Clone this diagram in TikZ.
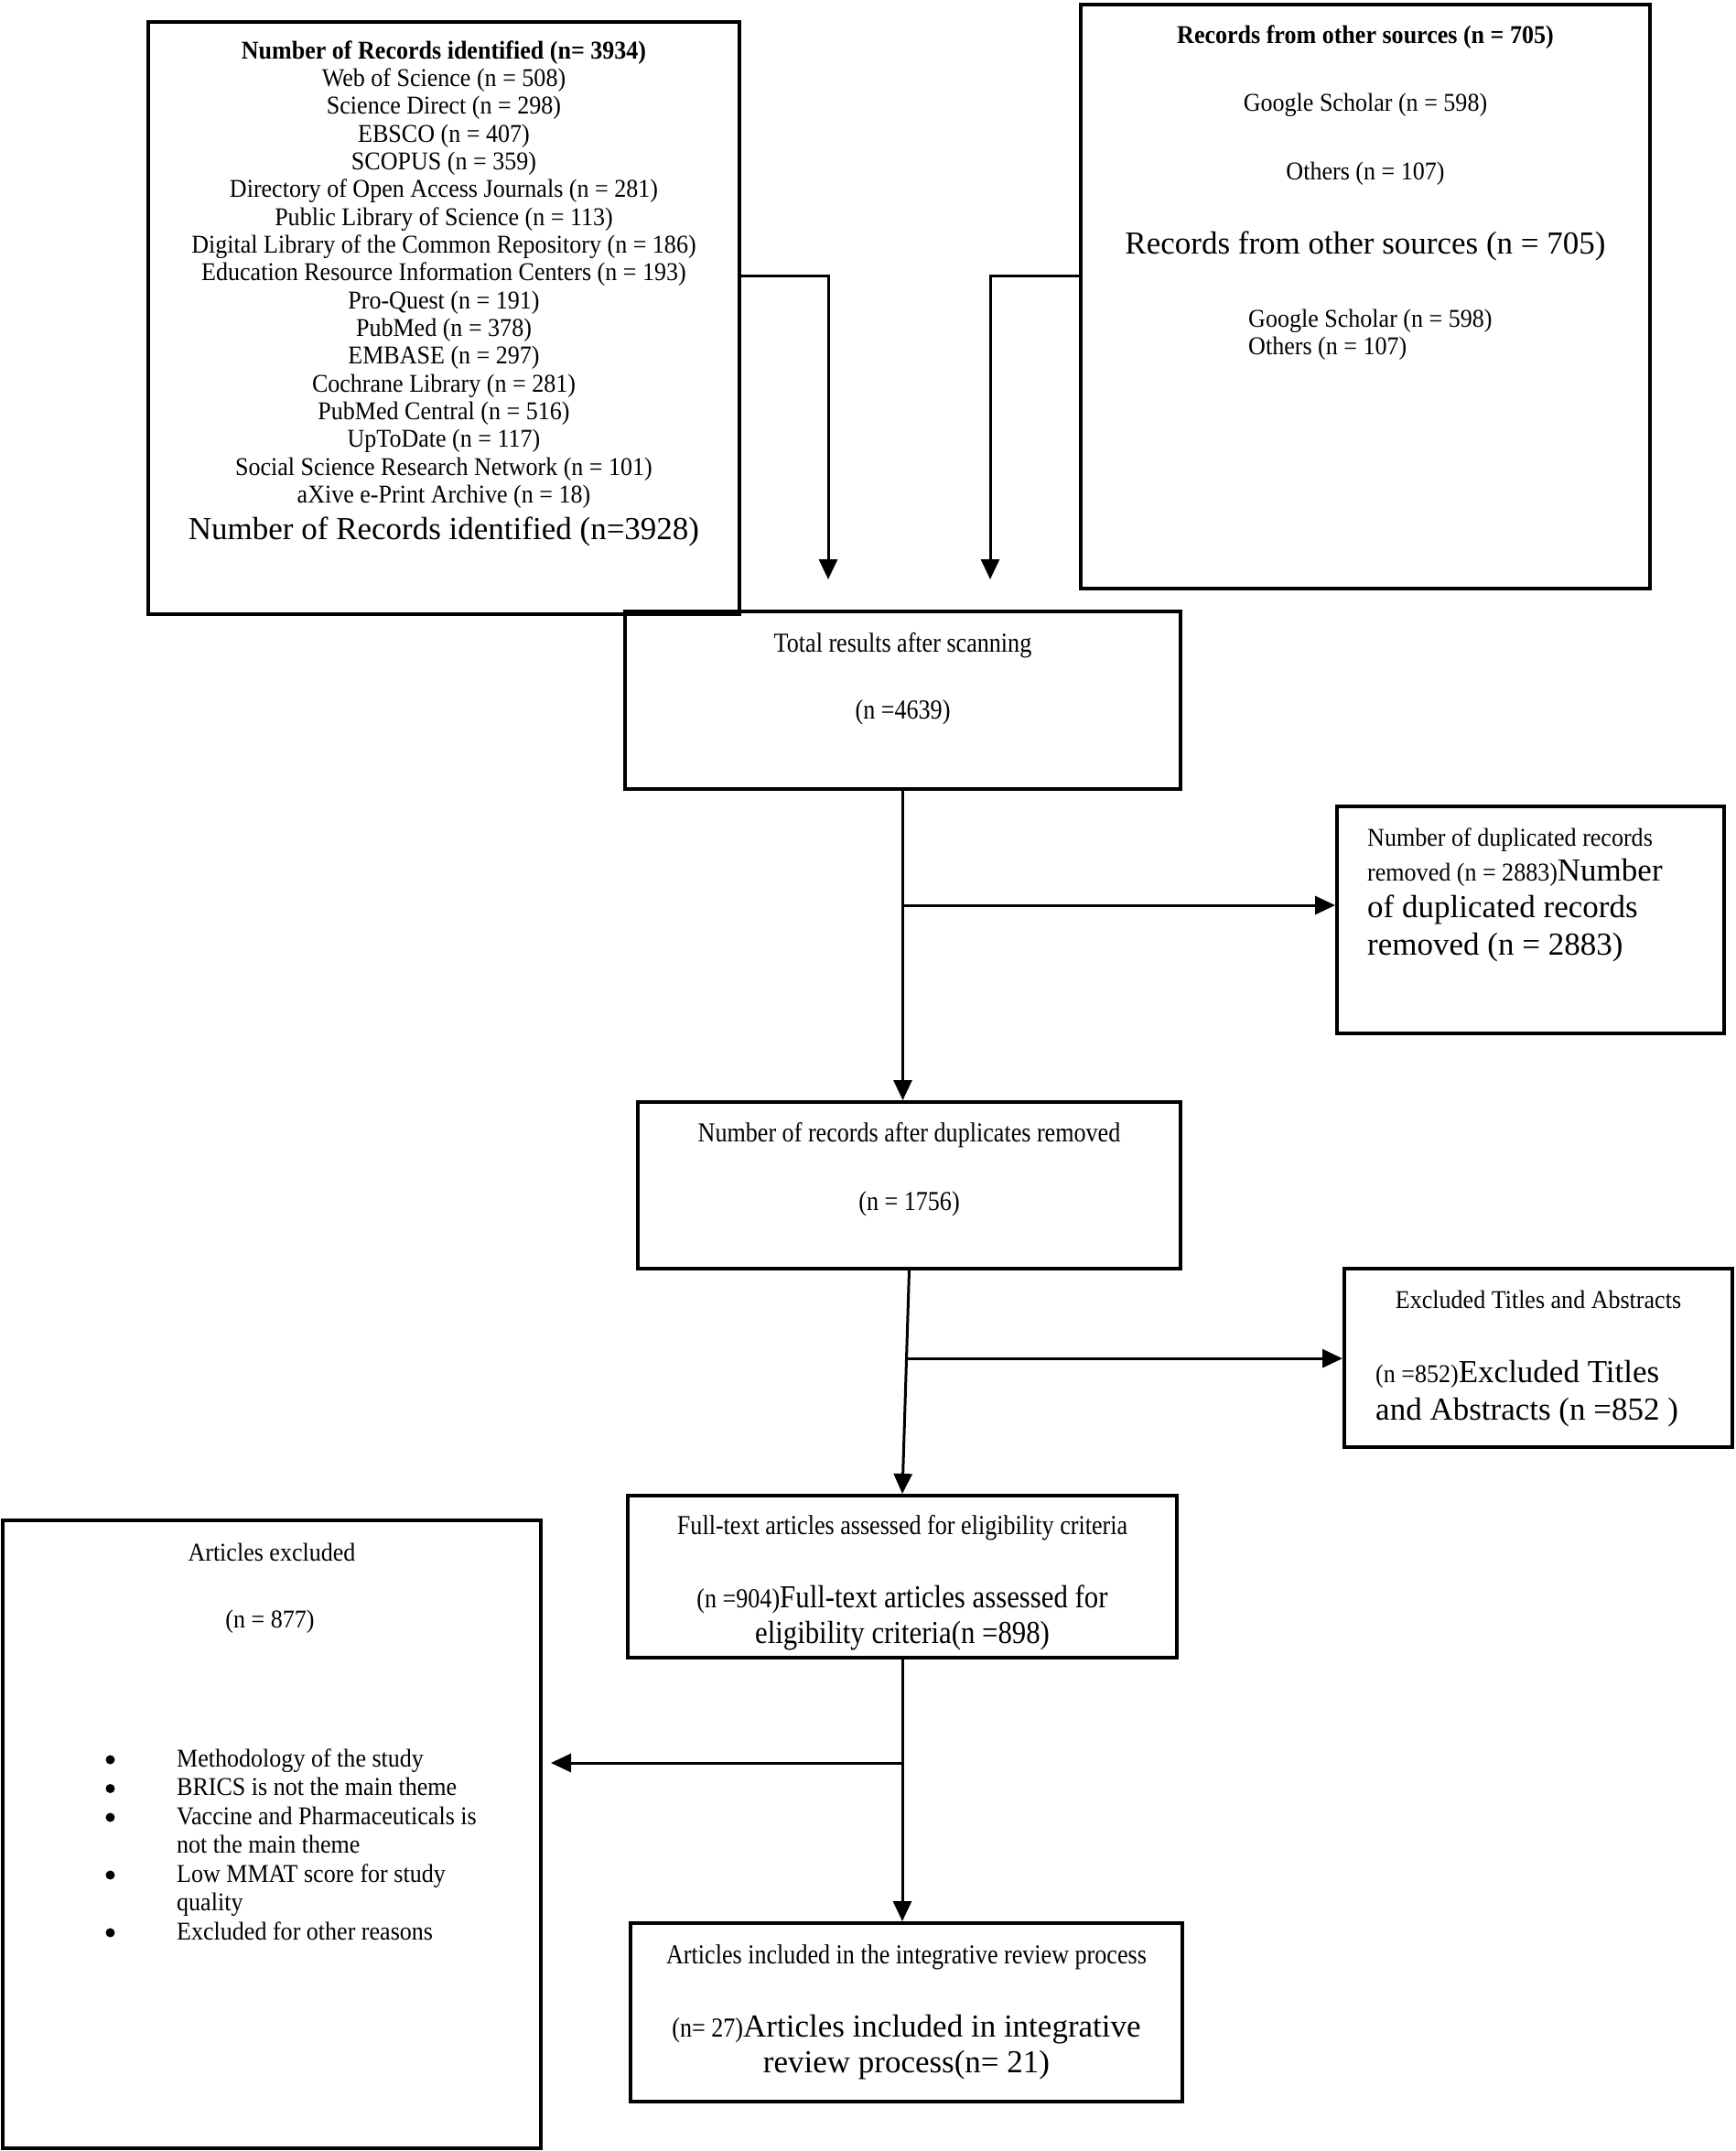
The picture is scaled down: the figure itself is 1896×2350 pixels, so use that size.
\documentclass[tikz,border=0pt]{standalone}
\usepackage{fontspec}
\setmainfont{Liberation Serif}
\newfontfamily\condserif[FakeStretch=0.88]{Liberation Serif}
\newfontfamily\serifA[FakeStretch=0.93]{Liberation Serif}
\newfontfamily\serifC[FakeStretch=0.87]{Liberation Serif}
\usetikzlibrary{arrows.meta,calc}
\newcommand\fsm{\serifA\fontsize{28}{30.35}\selectfont}
\newcommand\fsc{\serifC\fontsize{30}{30.35}\selectfont}
\newcommand\fbg{\normalfont\fontsize{35}{40}\selectfont}
\newcommand\fbgc{\condserif\fontsize{35}{40}\selectfont}
\begin{document}
\begin{tikzpicture}[x=1pt,y=-1pt,
  box/.style={draw=black, line width=4pt, inner sep=0pt},
  conn/.style={line width=3pt, -{Triangle[length=22pt,width=20pt]}},
  txt/.style={inner sep=0pt, anchor=base, font=\fsm},
  txtl/.style={inner sep=0pt, anchor=base west, font=\fsm},
  txtc/.style={inner sep=0pt, anchor=base, font=\fsc},
  bigtxt/.style={inner sep=0pt, anchor=base, font=\fbg},
  dot/.style={circle, fill=black, inner sep=0pt, minimum size=10pt},
  ]
\fill[white] (0,0) rectangle (1896,2350);
\useasboundingbox (0,0) rectangle (1896,2350);

% boxes
\node[box, minimum width=646pt, minimum height=647pt] (A) at (485,347.5) {};
\node[box, minimum width=622pt, minimum height=638pt] (B) at (1492,324) {};
\node[box, minimum width=607pt, minimum height=194pt] (C) at (986.5,765) {};
\node[box, minimum width=423pt, minimum height=248pt] (E) at (1672.5,1005) {};
\node[box, minimum width=593pt, minimum height=182pt] (D) at (993.5,1295) {};
\node[box, minimum width=424pt, minimum height=195pt] (F) at (1681,1483.5) {};
\node[box, minimum width=600pt, minimum height=177pt] (G) at (986,1722.5) {};
\node[box, minimum width=588pt, minimum height=686pt] (H) at (297,2004) {};
\node[box, minimum width=603pt, minimum height=195pt] (I) at (990.5,2198.5) {};

% box A text
\node[txt, font=\fsm\bfseries] (a0) at (485,64) {Number of Records identified (n= 3934)};
\foreach \t [count=\i] in {Web of Science (n = 508),Science Direct (n = 298),EBSCO (n = 407),SCOPUS (n = 359),Directory of Open Access Journals (n = 281),Public Library of Science (n = 113),Digital Library of the Common Repository (n = 186),Education Resource Information Centers (n = 193),Pro-Quest (n = 191),PubMed (n = 378),EMBASE (n = 297),Cochrane Library (n = 281),PubMed Central (n = 516),UpToDate (n = 117),Social Science Research Network (n = 101),aXive e-Print Archive (n = 18)}
  \node[txt] (a\i) at (485,{64+30.35*\i}) {\t};
\node[bigtxt] (abig) at (485,589) {Number of Records identified (n=3928)};

% box B text
\node[txt, font=\fsm\bfseries] (b0) at (1492,47.5) {Records from other sources (n = 705)};
\node[txt] (b1) at (1492,121) {Google Scholar (n = 598)};
\node[txt] (b2) at (1492,196) {Others (n = 107)};
\node[bigtxt] (b3) at (1492,277.3) {Records from other sources (n = 705)};
\node[txtl] (b4) at (1364,357.5) {Google Scholar (n = 598)};
\node[txtl] (b5) at (1364,387.5) {Others (n = 107)};

% box C text
\node[txtc] (c1) at (986.5,712) {Total results after scanning};
\node[txtc] (c2) at (986.5,785.4) {(n =4639)};

% box E text
\node[txtl] (e1) at (1494,924.5) {Number of duplicated records};
\node[txtl] (e2) at (1494,962.8) {removed (n = 2883){\fbg Number}};
\node[txtl, font=\fbg] (e3) at (1494,1002.5) {of duplicated records};
\node[txtl, font=\fbg] (e4) at (1494,1043) {removed (n = 2883)};

% box D text
\node[txtc] (d1) at (993.5,1247) {Number of records after duplicates removed};
\node[txtc] (d2) at (993.5,1322) {(n = 1756)};

% box F text
\node[txt] (f1) at (1681,1429.5) {Excluded Titles and Abstracts};
\node[txtl] (f2) at (1503,1510.5) {(n =852){\fbg Excluded Titles}};
\node[txtl, font=\fbg] (f3) at (1503,1551.5) {and Abstracts (n =852 )};

% box G text
\node[txtc] (g1) at (986,1676) {Full-text articles assessed for eligibility criteria};
\node[txtc] (g2) at (986,1756.5) {(n =904){\fbgc Full-text articles assessed for}};
\node[txtc, font=\fbgc] (g3) at (986,1795.5) {eligibility criteria(n =898)};

% box H text
\node[txt] (h1) at (297,1705.5) {Articles excluded};
\node[txt] (h2) at (295,1778.5) {(n = 877)};
\foreach \t/\b [count=\i from 0] in {Methodology of the study/1,BRICS is not the main theme/1,Vaccine and Pharmaceuticals is/1,not the main theme/0,Low MMAT score for study/1,quality/0,Excluded for other reasons/1}{
  \node[txtl] (hl\i) at (193,{1930+31.5*\i}) {\t};
  \ifnum\b=1 \node[dot] (hb\i) at (120.5,{1922.5+31.5*\i}) {}; \fi
}

% box I text
\node[txtc] (i1) at (990.5,2145) {Articles included in the integrative review process};
\node[txtc] (i2) at (990.5,2225.5) {(n= 27){\fbg Articles included in integrative}};
\node[bigtxt] (i3) at (990.5,2264.5) {review process(n= 21)};

% connectors
\coordinate (tipA) at (905,633);
\coordinate (tipB) at (1082,633);
\draw[conn] ([yshift=46.5pt]A.east) -| (tipA);
\draw[conn] ([yshift=23pt]B.west) -| (tipB);

\coordinate (eIn) at ([yshift=16pt]E.west);
\draw[conn] (C.south) -- (C.south |- D.north);
\draw[conn] (C.south |- eIn) -- (eIn);

\coordinate (fBr) at ($(D.south)!0.394!(G.north)$);
\draw[conn] (D.south) -- (G.north);
\draw[conn] (fBr) -- (fBr -| F.west);

\coordinate (hIn) at ([yshift=78pt,xshift=9pt]H.east);
\draw[conn] (G.south) -- (G.south |- I.north);
\draw[conn] (G.south |- hIn) -- (hIn);
\end{tikzpicture}
\end{document}
